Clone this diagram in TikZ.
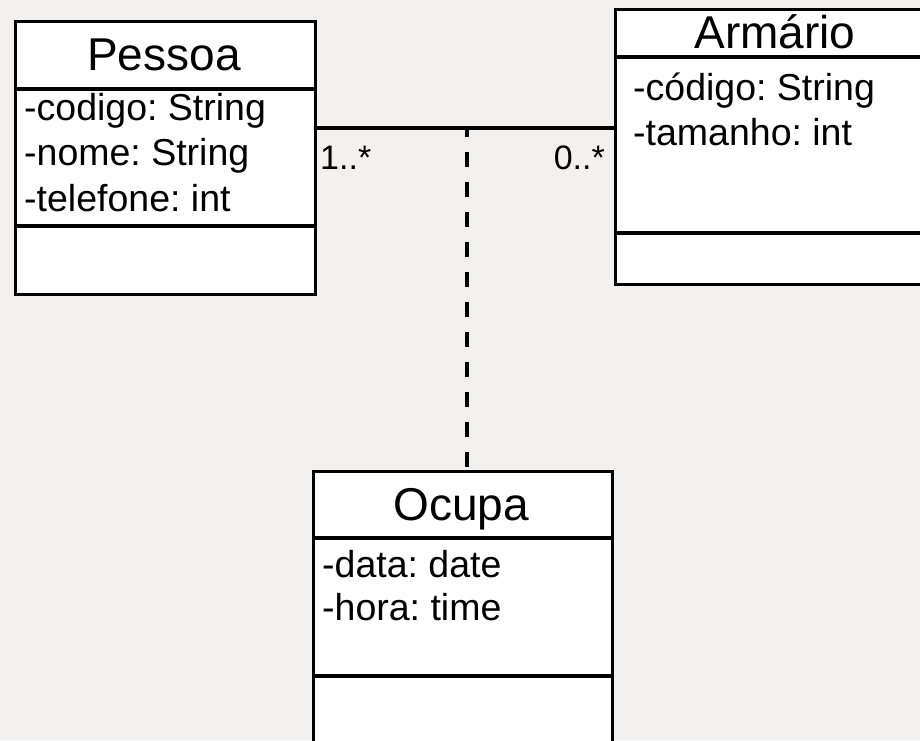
\documentclass[tikz,border=0pt]{standalone}
\usepackage{fontspec}
\setmainfont{Liberation Sans}
\frenchspacing
\definecolor{bgcol}{HTML}{F2F1EF}
\tikzset{
  classbox/.style={draw=black, fill=white, line width=3.2pt, anchor=north west, inner sep=0pt, rectangle},
  divider/.style={draw=black, line width=3.2pt},
  titletext/.style={anchor=base, inner sep=0pt, font=\fontsize{46}{54}\selectfont},
  attrtext/.style={anchor=base west, inner sep=0pt, font=\fontsize{37.5}{45}\selectfont},
  multtext/.style={inner sep=0pt, font=\fontsize{34}{40}\selectfont},
  assocline/.style={draw=black, line width=3.2pt},
  dependline/.style={draw=black, line width=3.2pt, dash pattern=on 15pt off 15pt, dash phase=6pt}
}
\begin{document}
\begin{tikzpicture}[x=1pt,y=-1pt]
\useasboundingbox (0,0) rectangle (920,740);
\fill[bgcol] (0,0) rectangle (920,740);
\clip (0,0) rectangle (920,740);

% association point
\coordinate (assoc) at (467,128);

% Pessoa
\node[classbox, minimum width=300pt, minimum height=273pt] (pessoa) at (14,20) {};
\draw[divider] ([yshift=-69pt]pessoa.north west) -- ([yshift=-69pt]pessoa.north east);
\draw[divider] ([yshift=-206pt]pessoa.north west) -- ([yshift=-206pt]pessoa.north east);
\node[titletext] (pessoaT) at (164,70) {Pessoa};
\node[attrtext] (pa1) at (24,120) {-codigo: String};
\node[attrtext] (pa2) at (24,165) {-nome: String};
\node[attrtext] (pa3) at (24,211) {-telefone: int};

% Armario
\node[classbox, minimum width=322pt, minimum height=275pt] (armario) at (614,8) {};
\draw[divider] ([yshift=-49pt]armario.north west) -- ([yshift=-49pt]armario.north east);
\draw[divider] ([yshift=-225pt]armario.north west) -- ([yshift=-225pt]armario.north east);
\node[titletext] (armarioT) at (775,48) {Armário};
\node[attrtext] (aa1) at (633,100) {-código: String};
\node[attrtext] (aa2) at (633,145) {-tamanho: int};

% Ocupa
\node[classbox, minimum width=299pt, minimum height=360pt] (ocupa) at (312,470) {};
\draw[divider] ([yshift=-68pt]ocupa.north west) -- ([yshift=-68pt]ocupa.north east);
\draw[divider] ([yshift=-206pt]ocupa.north west) -- ([yshift=-206pt]ocupa.north east);
\node[titletext] (ocupaT) at (461,520) {Ocupa};
\node[attrtext] (oa1) at (322,577) {-data: date};
\node[attrtext] (oa2) at (322,620) {-hora: time};

% connectors
\draw[assocline] (pessoa.east |- assoc) -- (armario.west |- assoc);
\draw[dependline] (assoc) -- (ocupa.north -| assoc);

% multiplicities
\node[multtext, anchor=base west] (m1) at (320,169) {1..*};
\node[multtext, anchor=base east] (m2) at (605,169) {0..*};
\end{tikzpicture}
\end{document}
